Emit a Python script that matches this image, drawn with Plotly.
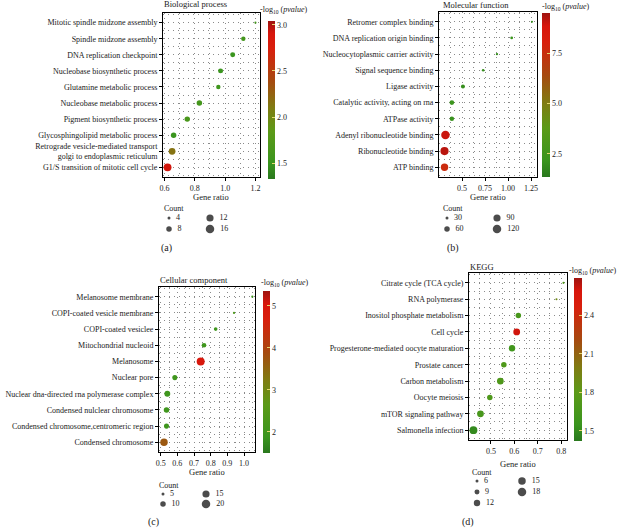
import math
import plotly.graph_objects as go

W, H = 617, 528
FONT = "Liberation Serif"
TXT = "#1a1a1a"

# ---------------- data ----------------
bp_terms = ["Mitotic spindle midzone assembly", "Spindle midzone assembly", "DNA replication checkpoint",
            "Nucleobase biosynthetic process", "Glutamine metabolic process", "Nucleobase metabolic process",
            "Pigment biosynthetic process", "Glycosphingolipid metabolic process",
            "Retrograde vesicle-mediated transport<br>golgi to endoplasmic reticulum",
            "G1/S transition of mitotic cell cycle"]
bp_ratio = [1.20, 1.12, 1.05, 0.97, 0.955, 0.83, 0.75, 0.66, 0.65, 0.62]
bp_count = [3, 6, 7, 7, 6, 8, 8, 8, 11, 14]
bp_logp = [1.6, 1.6, 1.5, 1.5, 1.55, 1.6, 1.65, 1.5, 2.15, 2.92]

mf_terms = ["Retromer complex binding", "DNA replication origin binding", "Nucleocytoplasmic carrier activity",
            "Signal sequence binding", "Ligase activity", "Catalytic activity, acting on rna",
            "ATPase activity", "Adenyl ribonucleotide binding", "Ribonucleotide binding", "ATP binding"]
mf_ratio = [1.26, 1.04, 0.88, 0.73, 0.51, 0.39, 0.39, 0.32, 0.31, 0.31]
mf_count = [20, 28, 25, 27, 40, 48, 45, 120, 112, 95]
mf_logp = [1.9, 2.2, 2.0, 2.0, 2.0, 2.3, 2.1, 9.0, 9.2, 7.6]

cc_terms = ["Melanosome membrane", "COPI-coated vesicle membrane", "COPI-coated vesiclee",
            "Mitochondrial nucleoid", "Melanosome", "Nuclear pore",
            "Nuclear dna-directed rna polymerase complex", "Condensed nulclear chromosome",
            "Condensed chromosome,centromeric region", "Condensed chromosome"]
cc_ratio = [1.05, 0.94, 0.83, 0.76, 0.74, 0.585, 0.54, 0.535, 0.535, 0.52]
cc_count = [4, 4, 6, 8, 18, 9, 11, 10, 9, 16]
cc_logp = [2.0, 2.3, 2.0, 2.0, 5.0, 2.0, 2.0, 2.0, 2.0, 3.7]

kegg_terms = ["Citrate cycle (TCA cycle)", "RNA polymerase", "Inositol phosphate metabolism", "Cell cycle",
              "Progesterone-mediated oocyte maturation", "Prostate cancer", "Carbon metabolism",
              "Oocyte meiosis", "mTOR signaling pathway", "Salmonella infection"]
kegg_ratio = [0.81, 0.78, 0.617, 0.61, 0.59, 0.555, 0.54, 0.495, 0.455, 0.425]
kegg_count = [5, 4, 10, 13, 12, 10, 13, 10, 13, 16]
kegg_logp = [1.7, 1.9, 1.65, 2.6, 1.6, 1.7, 1.7, 1.7, 1.65, 1.5]

bp_legend = [4, 8, 12, 16]
mf_legend = [30, 60, 90, 120]
cc_legend = [5, 10, 15, 20]
kegg_legend = [6, 9, 12, 15, 18]

bp_xticks = ["0.6", "0.8", "1.0", "1.2"]
mf_xticks = ["0.5", "0.75", "1.00", "1.25"]
cc_xticks = ["0.5", "0.6", "0.7", "0.8", "0.9", "1.0"]
kegg_xticks = ["0.5", "0.6", "0.7", "0.8"]

COLORSCALE = [[0.0, "#2a781e"], [0.1, "#3a951e"], [0.3, "#5c9a18"], [0.45, "#7f7c12"],
              [0.62, "#a64a10"], [0.82, "#d8200d"], [0.92, "#d8160c"], [1.0, "#9e1410"]]


def fx(px):
    return px / W


def fy(py):
    return 1 - py / H


def size_px(c, cmin, cmax, dmin=3.0, dmax=8.5):
    a = dmin ** 2 + (c - cmin) / (cmax - cmin) * (dmax ** 2 - dmin ** 2)
    return math.sqrt(max(a, 4.5))


panels = [
    dict(terms=bp_terms, ratio=bp_ratio, count=bp_count, logp=bp_logp, legend=bp_legend, nrows=2,
         box=(163, 260, 13, 177), xr=(0.59, 1.23), xt=[0.6, 0.8, 1.0, 1.2], xtt=bp_xticks, minor=0.1,
         cb=(268, 21, 7, 158), cbr=(1.33, 3.04), cbt=[1.5, 2.0, 2.5, 3.0], cbfmt=".1f",
         title="Biological process", tpos=(162, 4), cbtpos=(258, 10), xlab=(211, 197),
         cnt=(162, 209), cols=(169, 210), rows=(218, 229), lab="(a)", labpos=(166, 248)),
    dict(terms=mf_terms, ratio=mf_ratio, count=mf_count, logp=mf_logp, legend=mf_legend, nrows=2,
         box=(439, 537, 12, 177), xr=(0.25, 1.315), xt=[0.5, 0.75, 1.0, 1.25], xtt=mf_xticks, minor=0.125,
         cb=(542, 13, 8, 164), cbr=(1.35, 9.5), cbt=[2.5, 5.0, 7.5], cbfmt=".1f",
         title="Molecular function", tpos=(441, 5), cbtpos=(540, 7), xlab=(488, 197),
         cnt=(441, 209), cols=(447, 497), rows=(218, 229), lab="(b)", labpos=(453, 248)),
    dict(terms=cc_terms, ratio=cc_ratio, count=cc_count, logp=cc_logp, legend=cc_legend, nrows=2,
         box=(159, 255, 287, 452), xr=(0.49, 1.066), xt=[0.5, 0.6, 0.7, 0.8, 0.9, 1.0], xtt=cc_xticks,
         minor=0.05,
         cb=(263, 291, 7, 162), cbr=(1.5, 5.35), cbt=[2, 3, 4, 5], cbfmt="d",
         title="Cellular component", tpos=(158, 280), cbtpos=(259, 283), xlab=(207, 472),
         cnt=(157, 485), cols=(163, 206), rows=(494, 504), lab="(c)", labpos=(153, 522)),
    dict(terms=kegg_terms, ratio=kegg_ratio, count=kegg_count, logp=kegg_logp, legend=kegg_legend, nrows=3,
         box=(469, 567, 273, 440), xr=(0.406, 0.825), xt=[0.5, 0.6, 0.7, 0.8], xtt=kegg_xticks, minor=0.05,
         cb=(574, 278, 8, 163), cbr=(1.42, 2.69), cbt=[1.5, 1.8, 2.1, 2.4], cbfmt=".1f",
         title="KEGG", tpos=(468, 267), cbtpos=(567, 271), xlab=(518, 464),
         cnt=(470, 472), cols=(477, 522), rows=(481, 503), lab="(d)", labpos=(468, 522)),
]

GRID = dict(showgrid=True, gridcolor="#8a8a8a", griddash="1px,4px", gridwidth=1)
NB = "\u00a0\u00a0"

fig = go.Figure()
layout = dict(width=W, height=H, margin=dict(l=0, r=0, t=0, b=0, autoexpand=False), paper_bgcolor="white",
              plot_bgcolor="white", showlegend=False,
              font=dict(family=FONT, size=8, color=TXT))
annotations = []

for i, p in enumerate(panels):
    k = i + 1
    xa = "x" if k == 1 else f"x{k}"
    ya = "y" if k == 1 else f"y{k}"
    n = len(p["terms"])
    ypos = list(range(n))
    cmin_c, cmax_c = min(p["legend"]), max(p["legend"])
    sizes = [size_px(c, cmin_c, cmax_c) for c in p["count"]]
    x0, x1, y0, y1 = p["box"]
    cbx, cby, cbw, cbl = p["cb"]
    fig.add_trace(go.Scatter(
        x=p["ratio"], y=ypos, mode="markers", xaxis=xa, yaxis=ya, cliponaxis=False,
        marker=dict(size=sizes, color=p["logp"], colorscale=COLORSCALE, cmin=p["cbr"][0], cmax=p["cbr"][1],
                    line=dict(width=0), opacity=1,
                    showscale=True,
                    colorbar=dict(x=fx(cbx), xanchor="left", y=fy(cby), yanchor="top",
                                  lenmode="pixels", len=cbl, thickness=cbw, thicknessmode="pixels",
                                  xpad=0, ypad=0, outlinewidth=0, tickvals=p["cbt"],
                                  tickformat=p["cbfmt"], ticks="inside", ticklen=3,
                                  tickcolor="#e6d870", tickfont=dict(family=FONT, size=8, color=TXT))),
        hoverinfo="skip"))
    layout["xaxis" if k == 1 else f"xaxis{k}"] = dict(
        domain=[fx(x0), fx(x1)], range=list(p["xr"]), anchor=ya, tickvals=p["xt"], ticktext=p["xtt"],
        showline=True, mirror=True, linecolor="black", linewidth=1, ticks="outside", ticklen=3,
        tickcolor="black", zeroline=False, automargin=False, **GRID,
        minor=dict(dtick=p["minor"], tick0=p["xt"][0], **GRID),
        tickfont=dict(family=FONT, size=8, color=TXT))
    layout["yaxis" if k == 1 else f"yaxis{k}"] = dict(
        domain=[fy(y1), fy(y0)], range=[n - 0.4, -0.6], anchor=xa, tickvals=ypos, ticktext=p["terms"],
        showline=True, mirror=True, linecolor="black", linewidth=1, ticks="outside", ticklen=3,
        tickcolor="black", zeroline=False, automargin=False, **GRID,
        minor=dict(dtick=0.5, tick0=0, **GRID),
        tickfont=dict(family=FONT, size=8, color=TXT))

    # size legend on hidden axes
    kl = k + 4
    lxa, lya = f"x{kl}", f"y{kl}"
    nr = p["nrows"]
    lcols = [j // nr for j in range(len(p["legend"]))]
    lrows = [j % nr for j in range(len(p["legend"]))]
    fig.add_trace(go.Scatter(
        x=lcols, y=lrows, mode="markers+text", xaxis=lxa, yaxis=lya, cliponaxis=False,
        text=[NB + str(c) for c in p["legend"]], textposition="middle right",
        textfont=dict(family=FONT, size=8, color=TXT),
        marker=dict(size=[size_px(c, cmin_c, cmax_c) for c in p["legend"]], color="black", line=dict(width=0)),
        hoverinfo="skip"))
    c0, c1 = p["cols"]
    r0, r1 = p["rows"]
    layout[f"xaxis{kl}"] = dict(domain=[fx(c0), fx(c1)], range=[0, 1], visible=False, anchor=lya,
                                fixedrange=True, automargin=False)
    layout[f"yaxis{kl}"] = dict(domain=[fy(r1), fy(r0)], range=[nr - 1, 0], visible=False, anchor=lxa,
                                fixedrange=True, automargin=False)

    annotations += [
        dict(text=p["title"], x=fx(p["tpos"][0]), y=fy(p["tpos"][1]), xref="paper", yref="paper",
             xanchor="left", yanchor="middle", showarrow=False, font=dict(family=FONT, size=8.5, color=TXT)),
        dict(text="-log<sub>10</sub> (<i>pvalue</i>)", x=fx(p["cbtpos"][0]), y=fy(p["cbtpos"][1]),
             xref="paper", yref="paper", xanchor="left", yanchor="middle", showarrow=False,
             font=dict(family=FONT, size=8, color=TXT)),
        dict(text="Gene ratio", x=fx(p["xlab"][0]), y=fy(p["xlab"][1]), xref="paper", yref="paper",
             xanchor="center", yanchor="middle", showarrow=False, font=dict(family=FONT, size=8.5, color=TXT)),
        dict(text="Count", x=fx(p["cnt"][0]), y=fy(p["cnt"][1]), xref="paper", yref="paper",
             xanchor="left", yanchor="middle", showarrow=False, font=dict(family=FONT, size=8, color=TXT)),
        dict(text=p["lab"], x=fx(p["labpos"][0]), y=fy(p["labpos"][1]), xref="paper", yref="paper",
             xanchor="center", yanchor="middle", showarrow=False, font=dict(family=FONT, size=10, color=TXT)),
    ]

layout["annotations"] = annotations
fig.update_layout(**layout)
fig.write_html("out.html", config={"displayModeBar": False},
               post_script="document.body.style.margin='0';document.body.style.overflow='hidden';")
